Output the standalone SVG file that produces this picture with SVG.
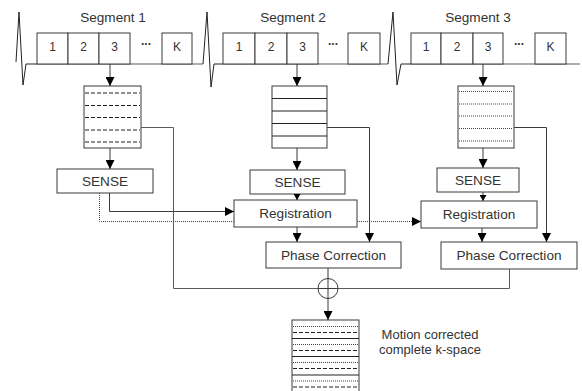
<svg xmlns="http://www.w3.org/2000/svg" width="582" height="391" viewBox="0 0 582 391">
  <style>
    .bg { fill: #ffffff; }
    .box { fill: #ffffff; stroke: #3a3a3a; stroke-width: 1; }
    .ln { fill: none; stroke: #3a3a3a; stroke-width: 1; }
    .gl { fill: none; stroke: #5a5a5a; stroke-width: 1; }
    .dash { stroke: #222; stroke-width: 1; stroke-dasharray: 4 2; }
    .dot { stroke: #444; stroke-width: 1; stroke-dasharray: 1 1; }
    .solid { stroke: #222; stroke-width: 1; }
    .wave { fill: none; stroke: #222; stroke-width: 1; }
    text { font-family: "Liberation Sans", Arial, sans-serif; fill: #333; }
    .t { font-size: 13.6px; text-anchor: middle; }
    .n { font-size: 12px; text-anchor: middle; }
    .cap { font-size: 13px; text-anchor: middle; }
  </style>
  <defs>
    <marker id="arr" markerUnits="userSpaceOnUse" markerWidth="9" markerHeight="9" refX="9" refY="4.5" orient="auto">
      <path d="M0,0 L9,4.5 L0,9 z" fill="#000"/>
    </marker>
    <marker id="arrs" markerUnits="userSpaceOnUse" markerWidth="6" markerHeight="7" refX="6" refY="3.5" orient="auto">
      <path d="M0,0 L6,3.5 L0,7 z" fill="#000"/>
    </marker>
  </defs>
  <rect class="bg" x="0" y="0" width="582" height="391"/>

  <!-- acquisition segment 1 -->
  <g id="segment1">
    <text class="t" x="113" y="22">Segment 1</text>
    <polyline class="wave" points="16,62 19,12 23,85 26,64 37,64"/>
    <line class="gl" x1="37" y1="64" x2="203" y2="64"/>
    <rect class="box" x="37" y="33" width="31" height="31"/>
    <rect class="box" x="68" y="33" width="31" height="31"/>
    <rect class="box" x="99" y="33" width="31" height="31"/>
    <rect class="box" x="162" y="33" width="30" height="31"/>
    <text class="n" x="52.5" y="51">1</text>
    <text class="n" x="83.5" y="51">2</text>
    <text class="n" x="114.5" y="51">3</text>
    <text class="n" x="146" y="45" font-size="9" font-weight="bold">...</text>
    <text class="n" x="177" y="51">K</text>
  </g>

  <!-- acquisition segment 2 -->
  <g id="segment2">
    <text class="t" x="293" y="22">Segment 2</text>
    <polyline class="wave" points="203,64 207,12 211,87 214,64 223,64"/>
    <line class="gl" x1="223" y1="64" x2="388" y2="64"/>
    <rect class="box" x="223" y="33" width="32" height="31"/>
    <rect class="box" x="255" y="33" width="32" height="31"/>
    <rect class="box" x="287" y="33" width="31" height="31"/>
    <rect class="box" x="348" y="33" width="32" height="31"/>
    <text class="n" x="239" y="51">1</text>
    <text class="n" x="271" y="51">2</text>
    <text class="n" x="302.5" y="51">3</text>
    <text class="n" x="333" y="45" font-size="9" font-weight="bold">...</text>
    <text class="n" x="364" y="51">K</text>
  </g>

  <!-- acquisition segment 3 -->
  <g id="segment3">
    <text class="t" x="478" y="22">Segment 3</text>
    <polyline class="wave" points="388,64 393,12 397,85 401,64 411,64"/>
    <line class="gl" x1="411" y1="64" x2="580" y2="64"/>
    <rect class="box" x="411" y="33" width="30" height="31"/>
    <rect class="box" x="441" y="33" width="32" height="31"/>
    <rect class="box" x="473" y="33" width="30" height="31"/>
    <rect class="box" x="535" y="33" width="31" height="31"/>
    <text class="n" x="426" y="51">1</text>
    <text class="n" x="457" y="51">2</text>
    <text class="n" x="488" y="51">3</text>
    <text class="n" x="519" y="45" font-size="9" font-weight="bold">...</text>
    <text class="n" x="550.5" y="51">K</text>
  </g>

  <!-- partial k-space, segment 1 (dashed lines) -->
  <g id="kspace1">
    <rect class="box" x="84" y="86" width="57" height="62" stroke="#111"/>
    <line class="dash" x1="85" y1="93" x2="140" y2="93"/>
    <line class="dash" x1="85" y1="105.5" x2="140" y2="105.5"/>
    <line class="dash" x1="85" y1="117.5" x2="140" y2="117.5"/>
    <line class="dash" x1="85" y1="130" x2="140" y2="130"/>
    <line class="dash" x1="85" y1="142" x2="140" y2="142"/>
  </g>

  <!-- partial k-space, segment 2 (solid lines) -->
  <g id="kspace2">
    <rect class="box" x="272" y="86" width="55" height="62" stroke="#111"/>
    <line class="solid" x1="272" y1="98.5" x2="327" y2="98.5"/>
    <line class="solid" x1="272" y1="111" x2="327" y2="111"/>
    <line class="solid" x1="272" y1="123.5" x2="327" y2="123.5"/>
    <line class="solid" x1="272" y1="136" x2="327" y2="136"/>
  </g>

  <!-- partial k-space, segment 3 (dotted lines) -->
  <g id="kspace3">
    <rect class="box" x="458" y="86" width="56" height="62" stroke="#111"/>
    <line class="dot" x1="459" y1="91.5" x2="513" y2="91.5"/>
    <line class="dot" x1="459" y1="104" x2="513" y2="104"/>
    <line class="dot" x1="459" y1="116" x2="513" y2="116"/>
    <line class="dot" x1="459" y1="128.5" x2="513" y2="128.5"/>
    <line class="dot" x1="459" y1="141" x2="513" y2="141"/>
  </g>

  <g id="sense1">
    <rect class="box" x="57" y="169" width="96" height="24"/>
    <text class="t" x="105" y="186">SENSE</text>
  </g>
  <g id="sense2">
    <rect class="box" x="250" y="170" width="95" height="24"/>
    <text class="t" x="297.5" y="187">SENSE</text>
  </g>
  <g id="sense3">
    <rect class="box" x="437" y="168" width="82" height="24"/>
    <text class="t" x="478" y="185">SENSE</text>
  </g>

  <g id="registration2">
    <rect class="box" x="234" y="200" width="123" height="27"/>
    <text class="t" x="295.5" y="218">Registration</text>
  </g>
  <g id="registration3">
    <rect class="box" x="421" y="201" width="116" height="27"/>
    <text class="t" x="479" y="219">Registration</text>
  </g>

  <g id="phase2">
    <rect class="box" x="266" y="242" width="135" height="26"/>
    <text class="t" x="333.5" y="260">Phase Correction</text>
  </g>
  <g id="phase3">
    <rect class="box" x="441" y="242" width="136" height="27"/>
    <text class="t" x="509" y="260">Phase Correction</text>
  </g>

  <!-- combined k-space -->
  <g id="kspace-combined">
    <rect class="box" x="292" y="320" width="67" height="80" stroke="#111"/>
    <line class="dot" x1="293" y1="326.5" x2="358" y2="326.5"/>
    <line class="dash" x1="293" y1="332.5" x2="358" y2="332.5"/>
    <line class="solid" x1="292" y1="338.5" x2="359" y2="338.5"/>
    <line class="dot" x1="293" y1="344.5" x2="358" y2="344.5"/>
    <line class="dash" x1="293" y1="350.5" x2="358" y2="350.5"/>
    <line class="solid" x1="292" y1="356.5" x2="359" y2="356.5"/>
    <line class="dot" x1="293" y1="362.5" x2="358" y2="362.5"/>
    <line class="dash" x1="293" y1="368.5" x2="358" y2="368.5"/>
    <line class="solid" x1="292" y1="375" x2="359" y2="375"/>
    <line class="dot" x1="293" y1="381" x2="358" y2="381"/>
    <line class="dash" x1="293" y1="387" x2="358" y2="387"/>
    <text class="cap" x="430" y="339">Motion corrected</text>
    <text class="cap" x="430" y="354">complete k-space</text>
  </g>

  <!-- summation node -->
  <g id="sum">
    <circle cx="328" cy="288.5" r="10" fill="none" stroke="#3a3a3a"/>
    <line class="ln" x1="318" y1="288.5" x2="338" y2="288.5"/>
  </g>

  <g id="connectors">
    <!-- segment data into partial k-spaces -->
    <line class="ln" x1="110" y1="64" x2="110" y2="86" marker-end="url(#arr)"/>
    <line class="ln" x1="297" y1="64" x2="297" y2="86" marker-end="url(#arr)"/>
    <line class="ln" x1="483" y1="64" x2="483" y2="86" marker-end="url(#arr)"/>
    <!-- k-space into SENSE -->
    <line class="ln" x1="110" y1="148" x2="110" y2="169" marker-end="url(#arr)"/>
    <line class="ln" x1="297" y1="148" x2="297" y2="170" marker-end="url(#arr)"/>
    <line class="ln" x1="483" y1="148" x2="483" y2="168" marker-end="url(#arr)"/>
    <!-- SENSE into registration -->
    <line class="ln" x1="297" y1="194" x2="297" y2="200" marker-end="url(#arrs)"/>
    <line class="ln" x1="483" y1="192" x2="483" y2="201" marker-end="url(#arrs)"/>
    <!-- SENSE 1 reference to registrations -->
    <polyline class="ln" points="109.5,193 109.5,211.5 234,211.5" marker-end="url(#arr)"/>
    <polyline class="dot" fill="none" points="99.5,193 99.5,221.5 234,221.5"/>
    <line class="dot" x1="357" y1="221.5" x2="421" y2="221.5" marker-end="url(#arr)"/>
    <!-- registration into phase correction -->
    <line class="ln" x1="297" y1="227" x2="297" y2="242" marker-end="url(#arr)"/>
    <line class="ln" x1="482" y1="228" x2="482" y2="242" marker-end="url(#arr)"/>
    <!-- k-space side paths -->
    <polyline class="ln" points="327,127.5 369.5,127.5 369.5,242" marker-end="url(#arr)"/>
    <polyline class="ln" points="514,127.5 546.5,127.5 546.5,242" marker-end="url(#arr)"/>
    <polyline class="gl" points="141,127.5 173.5,127.5 173.5,288.5 318,288.5"/>
    <!-- phase corrected data to summation -->
    <line class="ln" x1="328" y1="268" x2="328" y2="278.5"/>
    <polyline class="gl" points="338,288.5 509.5,288.5 509.5,269"/>
    <line class="ln" x1="328" y1="278.5" x2="328" y2="320" marker-end="url(#arr)"/>
  </g>
</svg>
